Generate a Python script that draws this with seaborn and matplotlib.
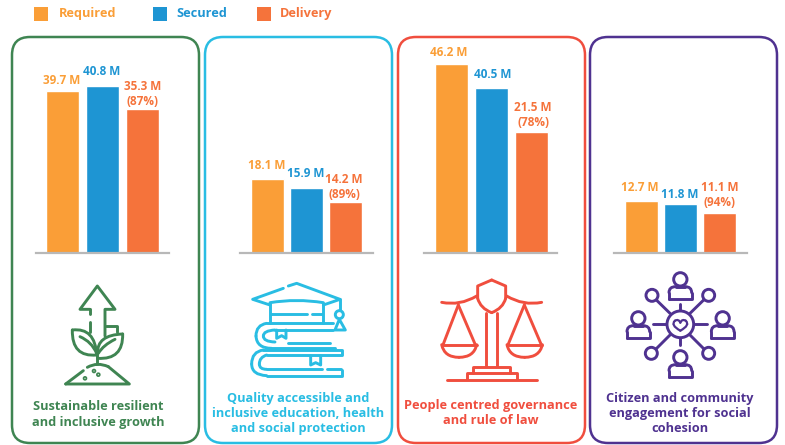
# Funding bars per theme, one small seaborn chart per card
import pandas as pd
import seaborn as sns
import matplotlib.pyplot as plt
from matplotlib.patches import FancyBboxPatch, Rectangle, Circle, PathPatch
from matplotlib.path import Path

# Data (millions)
series = ["Required", "Secured", "Delivery"]
required = [39.7, 18.1, 46.2, 12.7]
secured = [40.8, 15.9, 40.5, 11.8]
delivery = [35.3, 14.2, 21.5, 11.1]
delivery_pct = [87, 89, 78, 94]
# delivery bars as tall as they are drawn in the picture, which is not what their labels say
delivery_drawn = [35.2, 12.5, 29.5, 9.8]
titles = [
    "Sustainable resilient\nand inclusive growth",
    "Quality accessible and\ninclusive education, health\nand social protection",
    "People centred governance\nand rule of law",
    "Citizen and community\nengagement for social\ncohesion",
]

# Styling
series_colors = ["#FA9E37", "#1E95D3", "#F5733B"]
card_colors = ["#3F8552", "#29BDE3", "#F04E3E", "#4F3290"]
W, H = 785, 445
card_left = [12, 205, 398, 590]
card_width = 187
axis_left = [36, 240, 424, 614]
axis_width = 133
first_bar = [62.5, 267.5, 451.5, 641.5]
bar_step = [40, 39, 40, 39]
baseline = 252.5
px_per_m = 4.07
# label centre above the bar top and sideways shift, in pixels
label_gap = [[10, 15, 15], [13, 14, 15], [12, 13, 17], [13, 10, 18]]
label_shift = [[-0.5, -0.5, 0.5], [-0.5, -0.5, -1.5], [-2.5, 1.5, 1.5], [-1.5, -0.5, 0.5]]

sns.set_theme(style="white")
plt.rcParams["font.family"] = ["Open Sans", "DejaVu Sans"]
plt.rcParams["font.weight"] = "bold"

fig = plt.figure(figsize=(W / 100, H / 100), dpi=100)
PT = 72 / 100  # points per pixel

# ---- bars ----
for i in range(4):
    df = pd.DataFrame({"series": series, "value": [required[i], secured[i], delivery_drawn[i]]})
    labels = [required[i], secured[i], delivery[i]]
    top = 222
    step = bar_step[i]
    ax = fig.add_axes([axis_left[i] / W, 1 - baseline / H, axis_width / W, top / H])
    sns.barplot(data=df, x="series", y="value", hue="series", order=series, hue_order=series,
                palette=series_colors, width=33 / step, saturation=1, legend=False, ax=ax)
    left = -(first_bar[i] - axis_left[i]) / step
    ax.set_xlim(left, left + axis_width / step)
    ax.set_ylim(0, top / px_per_m)
    ax.set_xlabel("")
    ax.set_ylabel("")
    ax.set_xticks([])
    ax.set_yticks([])
    ax.patch.set_alpha(0)
    sns.despine(ax=ax, left=True)
    ax.spines["bottom"].set_color("#B8B8B8")
    ax.spines["bottom"].set_linewidth(1.6)

    for j, val in enumerate(df["value"]):
        label = f"{labels[j]} M"
        if j == 2:
            label += f"\n({delivery_pct[i]}%)"
        ax.annotate(label, (j, val), xytext=(label_shift[i][j] * PT, label_gap[i][j] * PT),
                    textcoords="offset points", ha="center", va="center", fontsize=8.5,
                    color=series_colors[j], linespacing=1.2)

# ---- overlay in pixel coordinates: cards, legend, icons, titles ----
ov = fig.add_axes([0, 0, 1, 1])
ov.set_xlim(0, W)
ov.set_ylim(H, 0)
ov.axis("off")
ov.patch.set_alpha(0)

for i in range(4):
    ov.add_patch(FancyBboxPatch((card_left[i] + 16, 37 + 16), card_width - 32, 406 - 32,
                                boxstyle="round,pad=16,rounding_size=18", fc="none",
                                ec=card_colors[i], lw=1.8))

legend_box = [34, 153, 257]
legend_text = [59, 176, 280]
for name, c, bx, tx in zip(series, series_colors, legend_box, legend_text):
    ov.add_patch(Rectangle((bx, 7), 14, 14, fc=c, ec="none"))
    ov.text(tx, 13.5, name, color=c, fontsize=9.2, va="center", ha="left")

title_x = [98, 298, 491, 680]
title_y = [414.5, 413.5, 413, 413.5]
for i in range(4):
    ov.text(title_x[i], title_y[i], titles[i], color=card_colors[i], fontsize=9.2, ha="center",
            va="center", linespacing=1.22)


# icon helpers, coordinates are in the 3x zoom of the picture
def to_px(p, oy=270, ox=0):
    return (ox + p[0] / 3, oy + p[1] / 3)


def line(pts, c, ox=0, lw=2.1):
    xy = [to_px(p, ox=ox) for p in pts]
    ov.plot([q[0] for q in xy], [q[1] for q in xy], color=c, lw=lw, solid_capstyle="round",
            solid_joinstyle="round")


def curve(p0, ctrl, p1, c, ox=0, lw=2.1, z=1):
    verts = [to_px(p0, ox=ox), to_px(ctrl, ox=ox), to_px(p1, ox=ox)]
    ov.add_patch(PathPatch(Path(verts, [Path.MOVETO, Path.CURVE3, Path.CURVE3]), fc="none", ec=c,
                           lw=lw, capstyle="round", zorder=z))


def ring(p, r, c, ox=0, lw=2.1):
    ov.add_patch(Circle(to_px(p, ox=ox), r / 3, fc="white", ec=c, lw=lw, zorder=3))


# plant
g = card_colors[0]
line([(270, 118), (240, 118), (292, 48), (345, 118), (315, 118), (315, 198)], g)
line([(270, 118), (270, 132)], g)
line([(270, 155), (270, 185)], g)
line([(318, 167), (350, 167), (350, 185)], g)
curve((290, 255), (215, 262), (217, 180), g)
curve((217, 180), (285, 172), (290, 255), g)
curve((240, 200), (275, 215), (290, 250), g)
curve((293, 265), (370, 270), (368, 192), g)
curve((368, 192), (290, 195), (293, 250), g)
curve((345, 208), (310, 225), (295, 250), g)
line([(292, 250), (292, 280)], g)
line([(197, 342), (250, 302)], g)
curve((262, 292), (292, 275), (325, 290), g)
line([(325, 290), (388, 342), (197, 342)], g)
for p in [(255, 325), (282, 303), (295, 314)]:
    ring(p, 2.5, g)

# books and graduation cap
b = card_colors[1]
line([(810, 105), (758, 88), (850, 55)], b)
line([(865, 48), (890, 40), (1020, 88), (970, 105)], b)
curve((810, 98), (890, 85), (970, 98), b)
line([(810, 98), (810, 158)], b)
line([(968, 98), (968, 158)], b)
line([(812, 133), (920, 133)], b)
line([(935, 133), (965, 133)], b)
line([(1020, 88), (1020, 122)], b)
ring((1018, 134), 12, b)
line([(1018, 148), (1005, 180), (1036, 180), (1018, 148)], b)
line([(800, 160), (1000, 160)], b)
curve((800, 160), (768, 165), (768, 198), b)
curve((768, 198), (770, 235), (815, 235), b)
line([(815, 235), (1005, 235)], b)
line([(1000, 180), (825, 180)], b)
curve((825, 180), (790, 182), (790, 198), b)
curve((790, 198), (790, 215), (825, 216), b)
line([(865, 218), (990, 218)], b)
line([(830, 180), (830, 205), (845, 197), (858, 205), (858, 180)], b)
line([(790, 240), (1025, 240), (1025, 255), (800, 255)], b)
curve((790, 240), (755, 245), (755, 282), b)
curve((755, 282), (755, 315), (800, 317), b)
line([(800, 317), (1025, 317), (1025, 300)], b)
curve((800, 255), (778, 262), (778, 282), b)
curve((778, 282), (778, 298), (800, 298), b)
line([(800, 298), (965, 298)], b)
line([(982, 298), (1022, 298)], b)
line([(932, 258), (932, 285), (947, 278), (962, 285), (962, 258)], b)

# scales
r = card_colors[2]
ox = 395
line([(290, 30), (248, 48), (248, 85)], r, ox)
line([(290, 30), (332, 48), (332, 85)], r, ox)
curve((248, 85), (256, 115), (290, 128), r, ox)
curve((332, 85), (324, 115), (290, 128), r, ox)
curve((140, 97), (195, 108), (245, 78), r, ox)
curve((440, 97), (385, 108), (335, 78), r, ox)
line([(274, 130), (274, 288)], r, ox)
line([(305, 130), (305, 288)], r, ox)
line([(190, 105), (145, 222)], r, ox)
line([(190, 105), (240, 222)], r, ox)
line([(388, 105), (340, 222)], r, ox)
line([(388, 105), (438, 222)], r, ox)
line([(140, 224), (245, 224)], r, ox)
line([(336, 224), (442, 224)], r, ox)
curve((140, 224), (148, 262), (192, 262), r, ox)
curve((245, 224), (237, 262), (192, 262), r, ox)
curve((336, 224), (344, 262), (389, 262), r, ox)
curve((442, 224), (434, 262), (389, 262), r, ox)
line([(235, 308), (235, 290), (345, 290), (345, 308)], r, ox)
line([(215, 326), (215, 308), (365, 308), (365, 326)], r, ox)
line([(155, 329), (425, 329)], r, ox)

# people network
n = card_colors[3]
ring((856, 163), 40, n, ox)
curve((856, 182), (825, 165), (840, 152), n, ox, lw=1.6, z=4)
curve((840, 152), (851, 146), (856, 158), n, ox, lw=1.6, z=4)
curve((856, 158), (861, 146), (872, 152), n, ox, lw=1.6, z=4)
curve((872, 152), (887, 165), (856, 182), n, ox, lw=1.6, z=4)
line([(855, 102), (855, 122)], n, ox)
line([(855, 204), (855, 224)], n, ox)
line([(775, 163), (815, 163)], n, ox)
line([(897, 163), (937, 163)], n, ox)
for a, d in [((825, 130), (782, 88)), ((885, 130), (928, 88)), ((825, 195), (782, 238)), ((885, 195), (928, 238))]:
    line([a, d], n, ox)
for p in [(771, 76), (941, 76), (769, 250), (941, 250)]:
    ring(p, 18, n, ox)
for cx, cy in [(856, 28), (730, 145), (983, 145), (856, 262)]:
    ring((cx, cy), 20, n, ox)
    line([(cx - 34, cy + 58), (cx - 34, cy + 40)], n, ox)
    curve((cx - 34, cy + 40), (cx - 34, cy + 22), (cx - 14, cy + 22), n, ox)
    line([(cx - 14, cy + 22), (cx + 14, cy + 22)], n, ox)
    curve((cx + 14, cy + 22), (cx + 34, cy + 22), (cx + 34, cy + 40), n, ox)
    line([(cx + 34, cy + 40), (cx + 34, cy + 58), (cx - 34, cy + 58)], n, ox)

fig.savefig("out.png", dpi=100)
